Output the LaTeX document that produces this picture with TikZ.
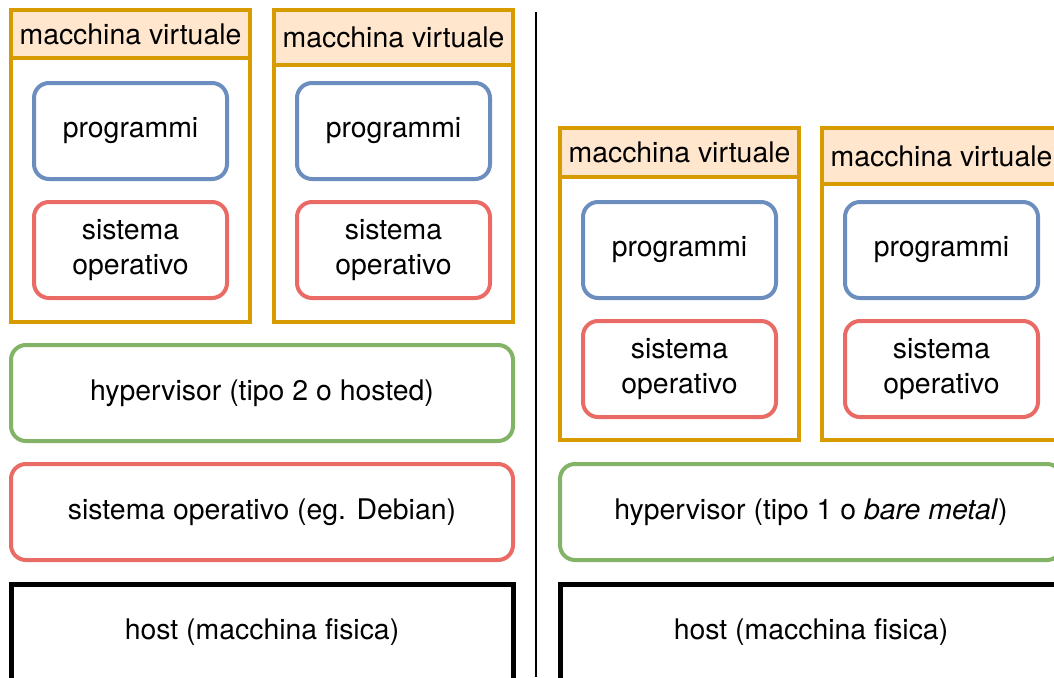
\documentclass[tikz,border=0pt]{standalone}
\usepackage{fontspec}
\setmainfont{TeX Gyre Heros}
\definecolor{vmline}{HTML}{D79B00}
\definecolor{vmfill}{HTML}{FFE6CC}
\definecolor{progline}{HTML}{6C8EBF}
\definecolor{osline}{HTML}{EA6B66}
\definecolor{hypline}{HTML}{82B366}
\tikzset{
  lbl/.style={font=\fontsize{28.4}{35}\selectfont, align=center, inner sep=0pt, outer sep=0pt},
  vmbox/.style={draw=vmline, line width=4pt, minimum width=239pt, minimum height=310pt, inner sep=0pt},
  vmhead/.style={lbl, draw=vmline, fill=vmfill, line width=4pt, minimum width=239pt, anchor=north},
  layer/.style={lbl, rounded corners=15pt, line width=4pt, minimum height=96pt},
  progbox/.style={layer, draw=progline, minimum width=193pt},
  osbox/.style={layer, draw=osline, minimum width=193pt},
  wideos/.style={layer, draw=osline, minimum width=502pt},
  hypbox/.style={layer, draw=hypline, minimum width=502pt},
  hostbox/.style={lbl, draw=black, line width=5pt, minimum width=502pt, minimum height=96pt},
}
\begin{document}
\begin{tikzpicture}[x=1pt, y=-1pt]
\useasboundingbox (0,0) rectangle (1054,677);
\clip (0,0) rectangle (1054,677);
\fill[white] (0,0) rectangle (1054,677);

% hosted setup (left)
\node[vmbox] (vmA) at (130.5,167) {};
\node[vmhead, minimum height=48pt] (vmAh) at (vmA.north) {macchina virtuale};
\node[progbox] (progA) at (130.5,131) {programmi};
\node[osbox] (osA) at (130.5,250) {sistema\\operativo};

\node[vmbox] (vmB) at (393.5,167) {};
\node[vmhead, minimum height=55pt] (vmBh) at (vmB.north) {macchina virtuale};
\node[progbox] (progB) at (393.5,131) {programmi};
\node[osbox] (osB) at (393.5,250) {sistema\\operativo};

\node[hypbox] (hypL) at (262,393) {hypervisor (tipo 2 o hosted)};
\node[wideos] (osHost) at (262,512) {sistema operativo (eg. Debian)};
\node[hostbox] (hostL) at (262,632) {host (macchina fisica)};

% divider
\coordinate (divTop) at (536,12);
\coordinate (divBot) at (536,677);
\draw[line width=2pt] (divTop) -- (divBot);

% bare metal setup (right)
\node[vmbox] (vmC) at (679.5,285) {};
\node[vmhead, minimum height=49pt] (vmCh) at (vmC.north) {macchina virtuale};
\node[progbox] (progC) at (679.5,250) {programmi};
\node[osbox] (osC) at (679.5,369) {sistema\\operativo};

\node[vmbox] (vmD) at (941.5,285) {};
\node[vmhead, minimum height=56pt] (vmDh) at (vmD.north) {macchina virtuale};
\node[progbox] (progD) at (941.5,250) {programmi};
\node[osbox] (osD) at (941.5,369) {sistema\\operativo};

\node[hypbox] (hypR) at (811,512) {hypervisor (tipo 1 o \textit{bare metal})};
\node[hostbox] (hostR) at (811,632) {host (macchina fisica)};
\end{tikzpicture}
\end{document}
